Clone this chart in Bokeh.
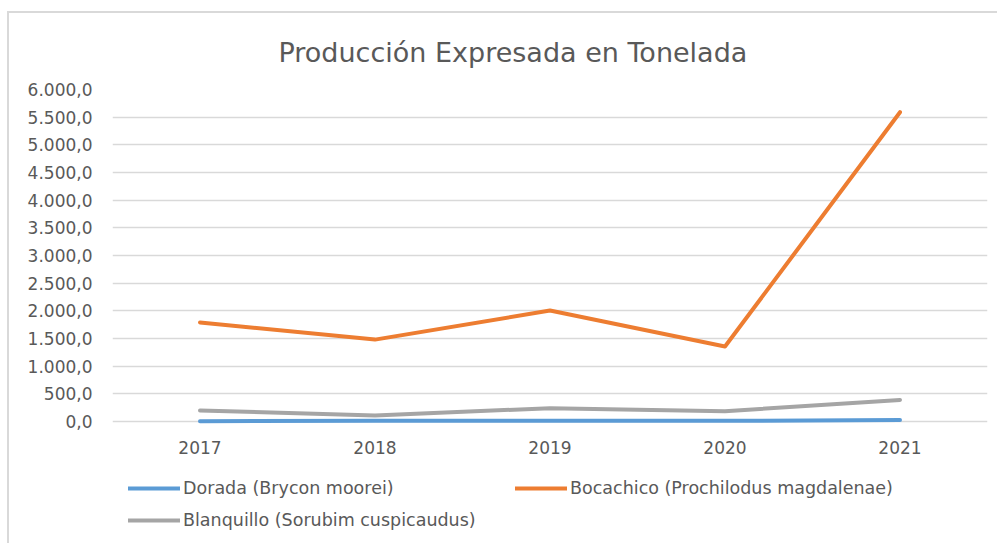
from bokeh.plotting import figure
from bokeh.models import Legend, LegendItem, FixedTicker, Title, Range1d
from bokeh.core.properties import value
from bokeh.embed import file_html
from bokeh.resources import INLINE

years = ["2017", "2018", "2019", "2020", "2021"]
dorada = [5.0, 12.0, 15.0, 12.0, 25.0]
bocachico = [1790.0, 1480.0, 2005.0, 1355.0, 5590.0]
blanquillo = [200.0, 110.0, 240.0, 185.0, 390.0]

series_names = ["Dorada (Brycon moorei)", "Bocachico (Prochilodus magdalenae)", "Blanquillo (Sorubim cuspicaudus)"]
series_colors = ["#5b9bd5", "#ed7d31", "#a5a5a5"]

y_ticks = [0, 500, 1000, 1500, 2000, 2500, 3000, 3500, 4000, 4500, 5000, 5500, 6000]
y_tick_labels = ["0,0", "500,0", "1.000,0", "1.500,0", "2.000,0", "2.500,0", "3.000,0",
                 "3.500,0", "4.000,0", "4.500,0", "5.000,0", "5.500,0", "6.000,0"]

title_text = "Producción Expresada en Tonelada"
FONT = "DejaVu Sans"
TXT = "#595959"

# plot frame spans the category-label and legend band too; 0..6000 occupies the top 332 px
Y_MAX = 6000.0
Y_MIN = -Y_MAX * 122.0 / 332.0
X_LABEL_Y = -Y_MAX * 26.0 / 332.0

p = figure(x_range=years, y_range=Range1d(Y_MIN, Y_MAX), frame_width=875, frame_height=454,
           output_backend="svg", toolbar_location=None,
           min_border_left=103, min_border_right=10, min_border_top=76, min_border_bottom=0,
           styles={"margin-top": "11px", "margin-left": "7px",
                   "border-top": "2px solid #d9d9d9", "border-left": "2px solid #d9d9d9"})
p.outline_line_color = None
p.background_fill_color = "white"
p.border_fill_color = "white"

renderers = []
for vals, c in zip([dorada, bocachico, blanquillo], series_colors):
    r = p.line(years, vals, line_color=c, line_width=4, line_cap="round", line_join="round")
    renderers.append(r)

# category labels under the zero line
p.text(x=years, y=[X_LABEL_Y] * len(years), text=years, text_align="center",
       text_baseline="middle", text_font=value(FONT), text_font_size=value("17px"),
       text_color=TXT)

p.xgrid.grid_line_color = None
p.ygrid.grid_line_color = "#d9d9d9"
p.ygrid.grid_line_width = 1.5
p.ygrid.ticker = FixedTicker(ticks=y_ticks)
p.yaxis.ticker = FixedTicker(ticks=y_ticks)
p.yaxis.major_label_overrides = {t: l for t, l in zip(y_ticks, y_tick_labels)}
p.xaxis.visible = False

ax = p.yaxis[0]
ax.axis_line_color = None
ax.major_tick_line_color = None
ax.minor_tick_line_color = None
ax.major_label_text_font = FONT
ax.major_label_text_font_size = "17px"
ax.major_label_text_color = TXT
ax.major_label_standoff = 14

order = [0, 2, 1]
legend = Legend(items=[LegendItem(label=series_names[i], renderers=[renderers[i]]) for i in order],
                ncols=2, location=(16, 13), margin=0, padding=0, spacing=12,
                glyph_width=52, glyph_height=20, label_height=20, label_width=320, label_standoff=3,
                label_text_font=FONT, label_text_font_size="17.5px", label_text_color=TXT,
                border_line_color=None, background_fill_alpha=0)
p.add_layout(legend)

p.add_layout(Title(text=title_text, align="left", offset=166, standoff=43,
                   text_font=FONT, text_font_size="27px", text_font_style="normal",
                   text_color=TXT), "above")

open("out.html", "w").write(file_html(p, INLINE))
